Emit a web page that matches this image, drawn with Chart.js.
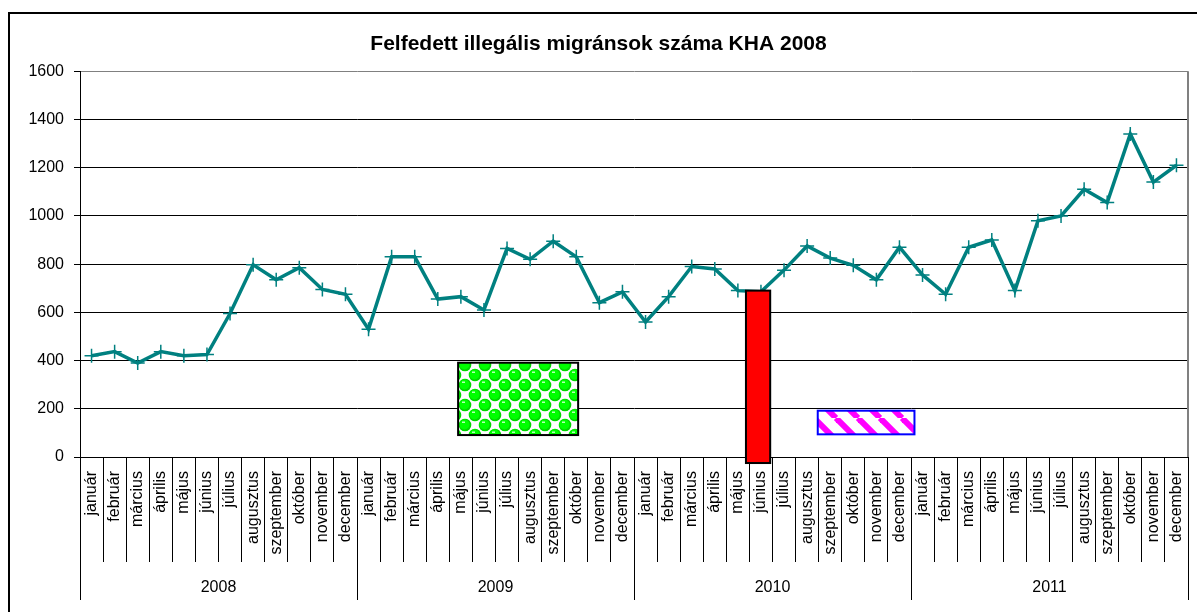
<!DOCTYPE html>
<html>
<head>
<meta charset="utf-8">
<script src="https://cdn.jsdelivr.net/npm/chart.js@4.4.0/dist/chart.umd.min.js"></script>
<style>
	html, body { margin: 0; padding: 0; background: #fff; }
	#wrap { width: 1197px; height: 612px; }
</style>
</head>
<body>
<div id="wrap"><canvas id="migrantChart"></canvas></div>
<script>
var years = ["2008", "2009", "2010", "2011"];
var monthNames = ["január", "február", "március", "április", "május", "június", "július", "augusztus", "szeptember", "október", "november", "december"];
var values2008 = [420, 437, 390, 437, 420, 425, 595, 797, 735, 785, 695, 675];
var values2009 = [530, 830, 830, 655, 665, 610, 865, 820, 895, 830, 640, 685];
var values2010 = [560, 665, 790, 780, 690, 685, 775, 875, 825, 795, 735, 870];
var values2011 = [755, 675, 870, 900, 690, 980, 1000, 1110, 1055, 1340, 1140, 1210];
var yTicks = [0, 200, 400, 600, 800, 1000, 1200, 1400, 1600];

// drawn boxes over the chart, in axis units (month index / count)
var boxFrom = [15.88, 28.35, 31.46];
var boxTo = [21.08, 29.4, 35.65];
var boxLow = [91, -25, 94];
var boxHigh = [391, 690, 192];

var monthLabels = [];
years.forEach(function(){ monthLabels = monthLabels.concat(monthNames); });
var allValues = values2008.concat(values2009, values2010, values2011);

var FONT = "'Liberation Sans', Arial, sans-serif";

function greenPattern(ctx){
	var c = document.createElement("canvas");
	c.width = 20; c.height = 20;
	var g = c.getContext("2d");
	g.fillStyle = "#fff";
	g.fillRect(0, 0, 20, 20);
	[[5, 5], [15, 15]].forEach(function(p){
		[-20, 0, 20].forEach(function(dx){
			[-20, 0, 20].forEach(function(dy){
				var x = p[0] + dx, y = p[1] + dy;
				g.fillStyle = "#00d800";
				g.beginPath(); g.arc(x, y, 6.3, 0, Math.PI * 2); g.fill();
				g.fillStyle = "#00ff00";
				g.beginPath(); g.arc(x - 0.5, y - 0.5, 5, 0, Math.PI * 2); g.fill();
				g.fillStyle = "#b8ffb8";
				g.fillRect(x - 3, y - 3.5, 3, 1.5);
			});
		});
	});
	return ctx.createPattern(c, "repeat");
}

function hatchPattern(ctx){
	var c = document.createElement("canvas");
	c.width = 22; c.height = 22;
	var g = c.getContext("2d");
	g.fillStyle = "#fff";
	g.fillRect(0, 0, 22, 22);
	g.strokeStyle = "#ff00ff";
	g.lineWidth = 6;
	[-22, 0, 22].forEach(function(o){
		g.beginPath(); g.moveTo(o, 0); g.lineTo(o + 22, 22); g.stroke();
	});
	return ctx.createPattern(c, "repeat");
}

var framePlugin = {
	id: "frame",
	beforeDraw: function(chart){
		var ctx = chart.ctx;
		ctx.save();
		ctx.fillStyle = "#fff";
		ctx.fillRect(0, 0, chart.width, chart.height);
		ctx.strokeStyle = "#000";
		ctx.lineWidth = 2;
		ctx.strokeRect(9, 13, chart.width + 20, chart.height + 20);
		ctx.restore();
	},
	afterDraw: function(chart){
		var ctx = chart.ctx, a = chart.chartArea;
		ctx.save();
		ctx.strokeStyle = "#808080";
		ctx.lineWidth = 2;
		ctx.beginPath();
		ctx.moveTo(a.right, a.top);
		ctx.lineTo(a.right, a.bottom);
		ctx.stroke();
		ctx.restore();
	}
};

var boxPlugin = {
	id: "boxes",
	afterDatasetsDraw: function(chart){
		var ctx = chart.ctx;
		var xs = chart.scales.x, ys = chart.scales.y;
		var fills = [greenPattern(ctx), "#ff0000", hatchPattern(ctx)];
		var strokes = ["#000", "#000", "#0000ff"];
		ctx.save();
		for (var i = 0; i < boxFrom.length; i++) {
			var x0 = xs.getPixelForValue(boxFrom[i]);
			var x1 = xs.getPixelForValue(boxTo[i]);
			var y0 = ys.getPixelForValue(boxHigh[i]);
			var y1 = ys.getPixelForValue(boxLow[i]);
			ctx.fillStyle = fills[i];
			ctx.fillRect(x0, y0, x1 - x0, y1 - y0);
			ctx.strokeStyle = strokes[i];
			ctx.lineWidth = 2;
			ctx.strokeRect(x0, y0, x1 - x0, y1 - y0);
		}
		ctx.restore();
	}
};

new Chart("migrantChart", {
	type: "line",
	data: {
		labels: monthLabels,
		datasets: [{
			data: allValues,
			borderColor: "#008080",
			borderWidth: 3.5,
			pointStyle: "cross",
			pointRadius: 7,
			pointBorderWidth: 1.5,
			pointBorderColor: "#008080",
			pointBackgroundColor: "#008080",
			tension: 0,
			clip: false
		}]
	},
	options: {
		responsive: true,
		maintainAspectRatio: false,
		animation: false,
		layout: { padding: { left: 9, right: 9, top: 29, bottom: 12 } },
		plugins: {
			legend: { display: false },
			tooltip: { enabled: false },
			title: {
				display: true,
				text: "Felfedett illegális migránsok száma KHA 2008",
				color: "#000",
				font: { family: FONT, size: 21, weight: "bold" },
				padding: { top: 3, bottom: 14 }
			}
		},
		scales: {
			y: {
				min: 0,
				max: 1600,
				afterBuildTicks: function(s){ s.ticks = yTicks.map(function(v){ return { value: v }; }); },
				afterFit: function(s){ s.width = 71; },
				border: { display: true, color: "#000", width: 1 },
				grid: {
					color: function(c){ return c.tick && c.tick.value === 1600 ? "#808080" : "#000"; },
					lineWidth: 1,
					tickLength: 6,
					tickColor: "#000"
				},
				ticks: {
					color: "#000",
					padding: 10,
					font: { family: FONT, size: 16 },
					callback: function(v){ return String(v); }
				}
			},
			x: {
				offset: true,
				weight: 0,
				afterFit: function(s){ s.height = 105; },
				border: { display: true, color: "#000", width: 1 },
				grid: { offset: true, drawOnChartArea: false, tickLength: 105, color: "#000", lineWidth: 1 },
				ticks: {
					autoSkip: false,
					minRotation: 90,
					maxRotation: 90,
					padding: -91,
					color: "#000",
					font: { family: FONT, size: 16 }
				}
			},
			years: {
				type: "category",
				labels: years,
				position: "bottom",
				offset: true,
				weight: 1,
				afterFit: function(s){ s.height = 38; },
				border: { display: false },
				grid: { offset: true, drawOnChartArea: false, tickLength: 38, color: "#000", lineWidth: 1 },
				ticks: { padding: -22, color: "#000", font: { family: FONT, size: 16 } }
			}
		}
	},
	plugins: [framePlugin, boxPlugin]
});
</script>
</body>
</html>
